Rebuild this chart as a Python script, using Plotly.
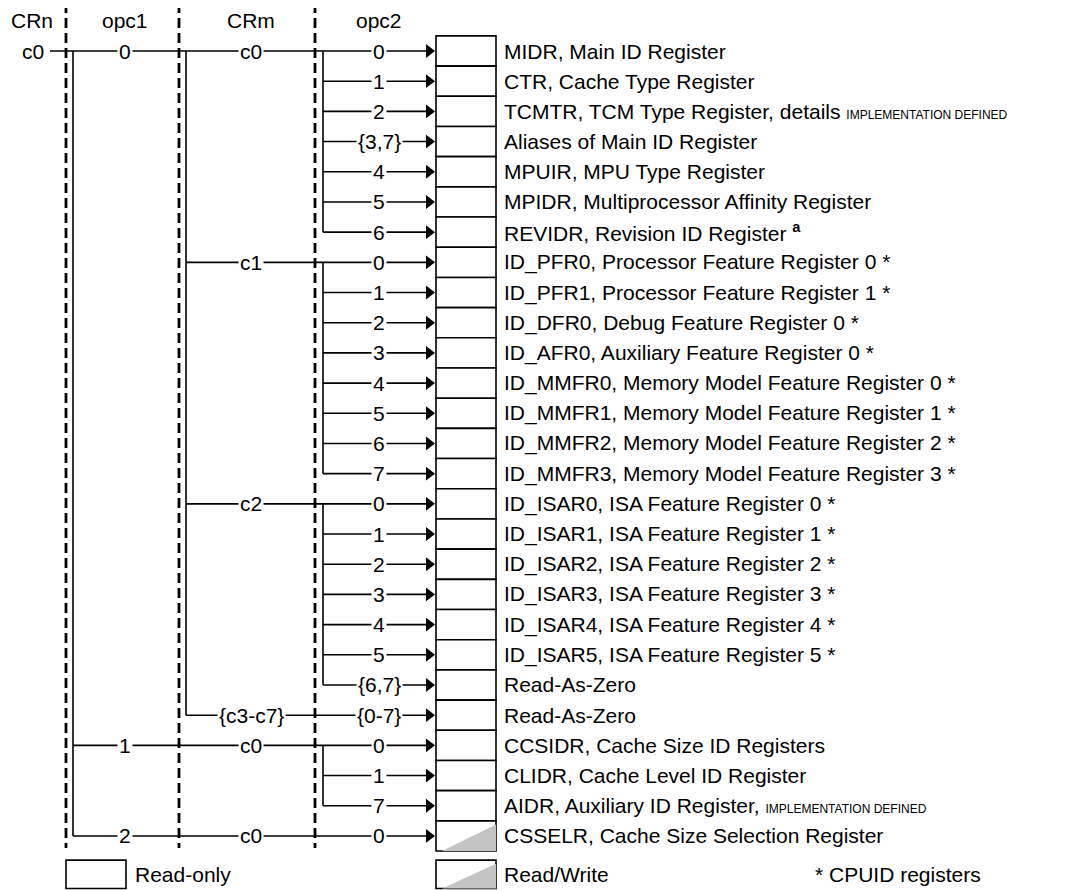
import plotly.graph_objects as go

# =========================
# DATA
# =========================
IMPL = "<span style='font-size:12px'>IMPLEMENTATION DEFINED</span>"
registers = [
    "MIDR, Main ID Register",
    "CTR, Cache Type Register",
    "TCMTR, TCM Type Register, details " + IMPL,
    "Aliases of Main ID Register",
    "MPUIR, MPU Type Register",
    "MPIDR, Multiprocessor Affinity Register",
    "REVIDR, Revision ID Register <sup><b>a</b></sup>",
    "ID_PFR0, Processor Feature Register 0 *",
    "ID_PFR1, Processor Feature Register 1 *",
    "ID_DFR0, Debug Feature Register 0 *",
    "ID_AFR0, Auxiliary Feature Register 0 *",
    "ID_MMFR0, Memory Model Feature Register 0 *",
    "ID_MMFR1, Memory Model Feature Register 1 *",
    "ID_MMFR2, Memory Model Feature Register 2 *",
    "ID_MMFR3, Memory Model Feature Register 3 *",
    "ID_ISAR0, ISA Feature Register 0 *",
    "ID_ISAR1, ISA Feature Register 1 *",
    "ID_ISAR2, ISA Feature Register 2 *",
    "ID_ISAR3, ISA Feature Register 3 *",
    "ID_ISAR4, ISA Feature Register 4 *",
    "ID_ISAR5, ISA Feature Register 5 *",
    "Read-As-Zero",
    "Read-As-Zero",
    "CCSIDR, Cache Size ID Registers",
    "CLIDR, Cache Level ID Register",
    "AIDR, Auxiliary ID Register, " + IMPL,
    "CSSELR, Cache Size Selection Register",
]
opc2 = ["0", "1", "2", "{3,7}", "4", "5", "6",
        "0", "1", "2", "3", "4", "5", "6", "7",
        "0", "1", "2", "3", "4", "5", "{6,7}",
        "{0-7}",
        "0", "1", "7",
        "0"]
crm = ["c0", "c0", "c0", "c0", "c0", "c0", "c0",
       "c1", "c1", "c1", "c1", "c1", "c1", "c1", "c1",
       "c2", "c2", "c2", "c2", "c2", "c2", "c2",
       "{c3-c7}",
       "c0", "c0", "c0",
       "c0"]
opc1 = ["0", "0", "0", "0", "0", "0", "0",
        "0", "0", "0", "0", "0", "0", "0", "0",
        "0", "0", "0", "0", "0", "0", "0",
        "0",
        "1", "1", "1",
        "2"]
access = ["RO"] * 26 + ["RW"]
crn = "c0"
headers = ["CRn", "opc1", "CRm", "opc2"]
legend_labels = ["Read-only", "Read/Write", "* CPUID registers"]

# =========================
# LAYOUT CONSTANTS (pixels on x, rows on y)
# =========================
FONT = "Liberation Sans, Arial, sans-serif"
FS = 21
PAGE_PAD = 8          # default body margin of the html page
X_HEAD = [32, 125, 251, 379]
X_DASH = [66, 179, 315]
X_CRN_TXT, X_CRN_LINE = 33, 50
X_BUS1, X_BUS2, X_BUS3 = 73, 186, 323
X_LBL1, X_LBL2, X_LBL3 = 125, 251, 379
X_ARROW = 429
X_BOX0, X_BOX1 = 436, 496
X_TEXT = 502
ROW0_PX, ROW_PX = 51, 30.19
Y_TOP = (PAGE_PAD - ROW0_PX) / ROW_PX
Y_BOT = (890 - ROW0_PX) / ROW_PX

n = len(registers)
rows = list(range(n))

opc1_starts = [r for r in rows if r == 0 or opc1[r] != opc1[r - 1]]
crm_starts = [r for r in rows if r == 0 or (opc1[r], crm[r]) != (opc1[r - 1], crm[r - 1])]
crm_ranges = []
for i, s in enumerate(crm_starts):
    e = crm_starts[i + 1] - 1 if i + 1 < len(crm_starts) else n - 1
    crm_ranges.append((s, e))

fig = go.Figure()

# dashed column separators
for xd in X_DASH:
    fig.add_trace(go.Scatter(x=[xd, xd], y=[-1.59, 26.4], mode="lines",
                             line=dict(color="black", width=2.8, dash="10px,5px"),
                             hoverinfo="skip", showlegend=False))

# tree lines
lx, ly = [], []
for r in rows:
    if r == 0:
        xs = X_CRN_LINE
    elif r in opc1_starts:
        xs = X_BUS1
    elif r in crm_starts:
        xs = X_BUS2
    else:
        xs = X_BUS3
    lx += [xs, X_ARROW, None]
    ly += [r, r, None]
lx += [X_BUS1, X_BUS1, None]
ly += [opc1_starts[0], opc1_starts[-1], None]
for i, s in enumerate(opc1_starts):
    e = opc1_starts[i + 1] - 1 if i + 1 < len(opc1_starts) else n - 1
    last = max(c for c in crm_starts if s <= c <= e)
    if last > s:
        lx += [X_BUS2, X_BUS2, None]
        ly += [s, last, None]
for s, e in crm_ranges:
    if e > s:
        lx += [X_BUS3, X_BUS3, None]
        ly += [s, e, None]
fig.add_trace(go.Scatter(x=lx, y=ly, mode="lines", line=dict(color="black", width=1.6),
                         hoverinfo="skip", showlegend=False))

# arrow heads
fig.add_trace(go.Scatter(x=[X_ARROW] * n, y=rows, mode="markers",
                         marker=dict(symbol="triangle-right", size=12, color="black"),
                         hoverinfo="skip", showlegend=False))

# register boxes
shapes = []
for r in rows:
    shapes.append(dict(type="rect", xref="x", yref="y", x0=X_BOX0, x1=X_BOX1,
                       y0=r - 0.5, y1=r + 0.5, line=dict(color="black", width=1.6),
                       fillcolor="white", layer="below"))
# legend boxes
LEG_Y0, LEG_Y1, LEG_YT = 26.8, 27.74, 27.28
shapes.append(dict(type="rect", xref="x", yref="y", x0=66, x1=126, y0=LEG_Y0, y1=LEG_Y1,
                   line=dict(color="black", width=1.6), fillcolor="white", layer="below"))
shapes.append(dict(type="rect", xref="x", yref="y", x0=X_BOX0, x1=X_BOX1, y0=LEG_Y0, y1=LEG_Y1,
                   line=dict(color="black", width=1.6), fillcolor="white", layer="below"))

# read/write triangles
tri_rows = [r for r in rows if access[r] == "RW"]
tx, ty = [], []
for r in tri_rows:
    tx += [X_BOX0 + 6, X_BOX1, X_BOX1, X_BOX0 + 6, None]
    ty += [r + 0.5, r - 0.38, r + 0.5, r + 0.5, None]
tx += [X_BOX0 + 6, X_BOX1, X_BOX1, X_BOX0 + 6, None]
ty += [LEG_Y1, LEG_Y0 + 0.12, LEG_Y1, LEG_Y1, None]
fig.add_trace(go.Scatter(x=tx, y=ty, mode="lines", fill="toself", fillcolor="#c4c4c4",
                         line=dict(width=0, color="#c4c4c4"), hoverinfo="skip", showlegend=False))

# =========================
# TEXT
# =========================
ann = []


def label(x, y, text, anchor="center", bg=None):
    ann.append(dict(x=x, y=y, xref="x", yref="y", text=text, showarrow=False,
                    xanchor=anchor, yanchor="middle", bgcolor=bg, borderpad=1,
                    font=dict(family=FONT, size=FS, color="black")))


for xh, h in zip(X_HEAD, headers):
    label(xh, -1.0, h)
label(X_CRN_TXT, 0, crn)
for r in opc1_starts:
    label(X_LBL1, r, opc1[r], bg="white")
for r in crm_starts:
    label(X_LBL2, r, crm[r], bg="white")
for r in rows:
    label(X_LBL3, r, opc2[r], bg="white")
    label(X_TEXT, r, registers[r], anchor="left")

for xl, t in zip([133, X_TEXT, 813], legend_labels):
    label(xl, LEG_YT, t, anchor="left")

fig.update_layout(
    width=1091 - PAGE_PAD, height=890 - PAGE_PAD,
    margin=dict(l=0, r=0, t=0, b=0),
    plot_bgcolor="white", paper_bgcolor="white",
    xaxis=dict(range=[PAGE_PAD, 1091], visible=False, fixedrange=True),
    yaxis=dict(range=[Y_BOT, Y_TOP], visible=False, fixedrange=True),
    shapes=shapes,
    annotations=ann,
    showlegend=False,
)

fig.write_html("out.html")
